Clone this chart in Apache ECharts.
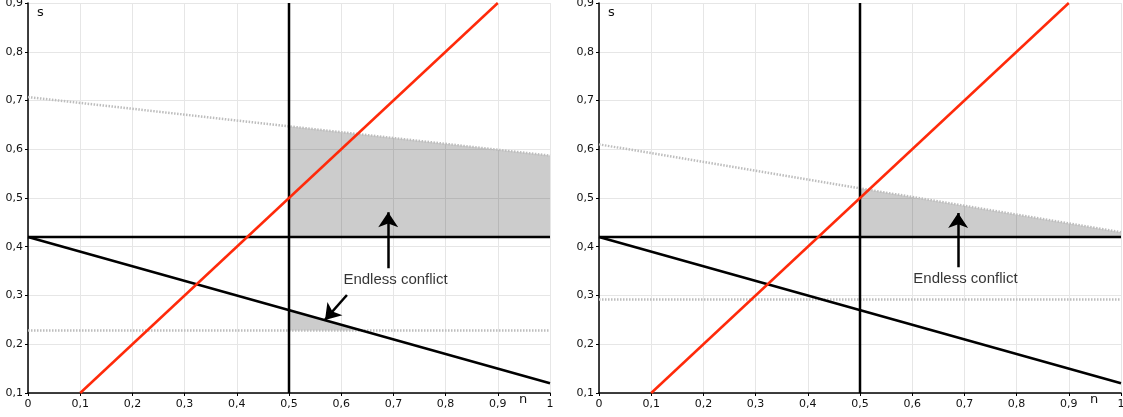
<!DOCTYPE html>
<html><head><meta charset="utf-8">
<script src="https://cdn.jsdelivr.net/npm/echarts@6/dist/echarts.min.js"></script>
<style>html,body{margin:0;padding:0;background:#fff}#c{width:1123px;height:417px}</style>
</head><body><div id="c"></div>
<script>
// tick labels
const xTickLabels = ['0','0,1','0,2','0,3','0,4','0,5','0,6','0,7','0,8','0,9','1'];
const yTickLabels = ['0','0,1','0,2','0,3','0,4','0,5','0,6','0,7','0,8','0,9','1'];
// shared lines
const redLine = [[0.1,0.1],[0.9,0.9]];
const descLine = [[0,0.42],[1,0.12]];
const hLine = [[0,0.42],[1,0.42]];
const vLine = [[0.5,0.1],[0.5,0.9]];
// left panel
const leftUpperDotted = [[0,0.707],[1,0.587]];
const leftLowerDotted = [[0,0.228],[1,0.228]];
const leftBand = [[0.5,0.42],[0.5,0.647],[1,0.587],[1,0.42]];
const leftTriangle = [[0.5,0.27],[0.5,0.228],[0.64,0.228]];
const leftArrows = [[[0.69,0.356],[0.69,0.471]], [[0.611,0.301],[0.569,0.25]]];
const leftLabel = [[0.704,0.332]];
// right panel
const rightUpperDotted = [[0,0.61],[1,0.43]];
const rightLowerDotted = [[0,0.292],[1,0.292]];
const rightBand = [[0.5,0.42],[0.5,0.52],[1,0.43],[1,0.42]];
const rightArrows = [[[0.688,0.358],[0.688,0.469]]];
const rightLabel = [[0.702,0.334]];
const labelText = 'Endless conflict';

const FONT = 'DejaVu Sans';
function xAxis(i){
  return {gridIndex:i, type:'value', min:0, max:1, interval:0.1,
    axisLine:{show:true, onZero:false, lineStyle:{color:'#000', width:1.5}},
    axisTick:{show:true, length:3, lineStyle:{color:'#000'}},
    axisLabel:{margin:6, fontFamily:FONT, fontSize:11, color:'#111',
      formatter:v=>xTickLabels[Math.round(v*10)]},
    splitLine:{show:true, lineStyle:{color:'#e6e6e6', width:1}},
    name:'n', nameLocation:'end', nameGap:-27,
    nameTextStyle:{fontFamily:FONT, fontSize:13, color:'#111', align:'center', verticalAlign:'top', padding:[0,0,0,0]}
  };
}
function yAxis(i){
  return {gridIndex:i, type:'value', min:0.1, max:0.9, interval:0.1,
    axisLine:{show:true, onZero:false, lineStyle:{color:'#000', width:1.5}},
    axisTick:{show:true, length:3, lineStyle:{color:'#000'}},
    axisLabel:{margin:5, fontFamily:FONT, fontSize:11, color:'#111',
      formatter:v=>yTickLabels[Math.round(v*10)]},
    splitLine:{show:true, lineStyle:{color:'#e6e6e6', width:1}},
    name:'s', nameLocation:'end', nameGap:-16,
    nameTextStyle:{fontFamily:FONT, fontSize:13, color:'#111', align:'left', padding:[0,0,0,9]}
  };
}
function line(i, data, color, width, type, z){
  return {type:'line', xAxisIndex:i, yAxisIndex:i, data:data, symbol:'none', silent:true,
    lineStyle:{color:color, width:width, type:type||'solid'}, z:z||3, animation:false};
}
function poly(i, pts){
  return {type:'custom', xAxisIndex:i, yAxisIndex:i, data:pts, encode:{x:0,y:1}, z:1, silent:true,
    renderItem:(params, api)=>{
      if(params.dataIndex!==0) return;
      return {type:'polygon', shape:{points:pts.map(p=>api.coord(p))}, style:{fill:'rgba(0,0,0,0.2)'}};
    }, animation:false};
}
function arrows(i, list){
  return {type:'lines', coordinateSystem:'cartesian2d', xAxisIndex:i, yAxisIndex:i,
    symbol:['none','arrow'], symbolSize:[14,15], z:5, silent:true,
    lineStyle:{color:'#000', width:2.5, opacity:1},
    data:list.map(c=>({coords:c})), animation:false};
}
function label(i, d){
  return {type:'scatter', xAxisIndex:i, yAxisIndex:i, data:d, symbolSize:1, itemStyle:{color:'rgba(0,0,0,0)'}, z:6, silent:true,
    label:{show:true, position:'inside', formatter:labelText, fontFamily:'Liberation Sans', fontSize:15, color:'#000'}, animation:false};
}
function panel(i, band, extraPolys, upper, lower, arr, lab){
  const s = [poly(i, band)];
  extraPolys.forEach(p=>s.push(poly(i,p)));
  s.push(line(i, upper, '#bdbdbd', 2.5, [1.5,1.5], 2));
  s.push(line(i, lower, '#bdbdbd', 2.5, [1.5,1.5], 2));
  s.push(line(i, hLine, '#000', 2.5));
  s.push(line(i, vLine, '#000', 2.5));
  s.push(line(i, descLine, '#000', 2.5));
  s.push(line(i, redLine, '#ff2a0a', 2.5, 'solid', 4));
  s.push(arrows(i, arr));
  s.push(label(i, lab));
  return s;
}
const chart = echarts.init(document.getElementById('c'), null, {renderer:'canvas'});
chart.setOption({
  animation:false,
  backgroundColor:'#fff',
  grid:[{left:28, top:3, width:522, height:390, outerBoundsMode:'none', containLabel:false},
        {left:599, top:3, width:522, height:390, outerBoundsMode:'none', containLabel:false}],
  xAxis:[xAxis(0), xAxis(1)],
  yAxis:[yAxis(0), yAxis(1)],
  series:[].concat(
    panel(0, leftBand, [leftTriangle], leftUpperDotted, leftLowerDotted, leftArrows, leftLabel),
    panel(1, rightBand, [], rightUpperDotted, rightLowerDotted, rightArrows, rightLabel)
  )
});
</script></body></html>
